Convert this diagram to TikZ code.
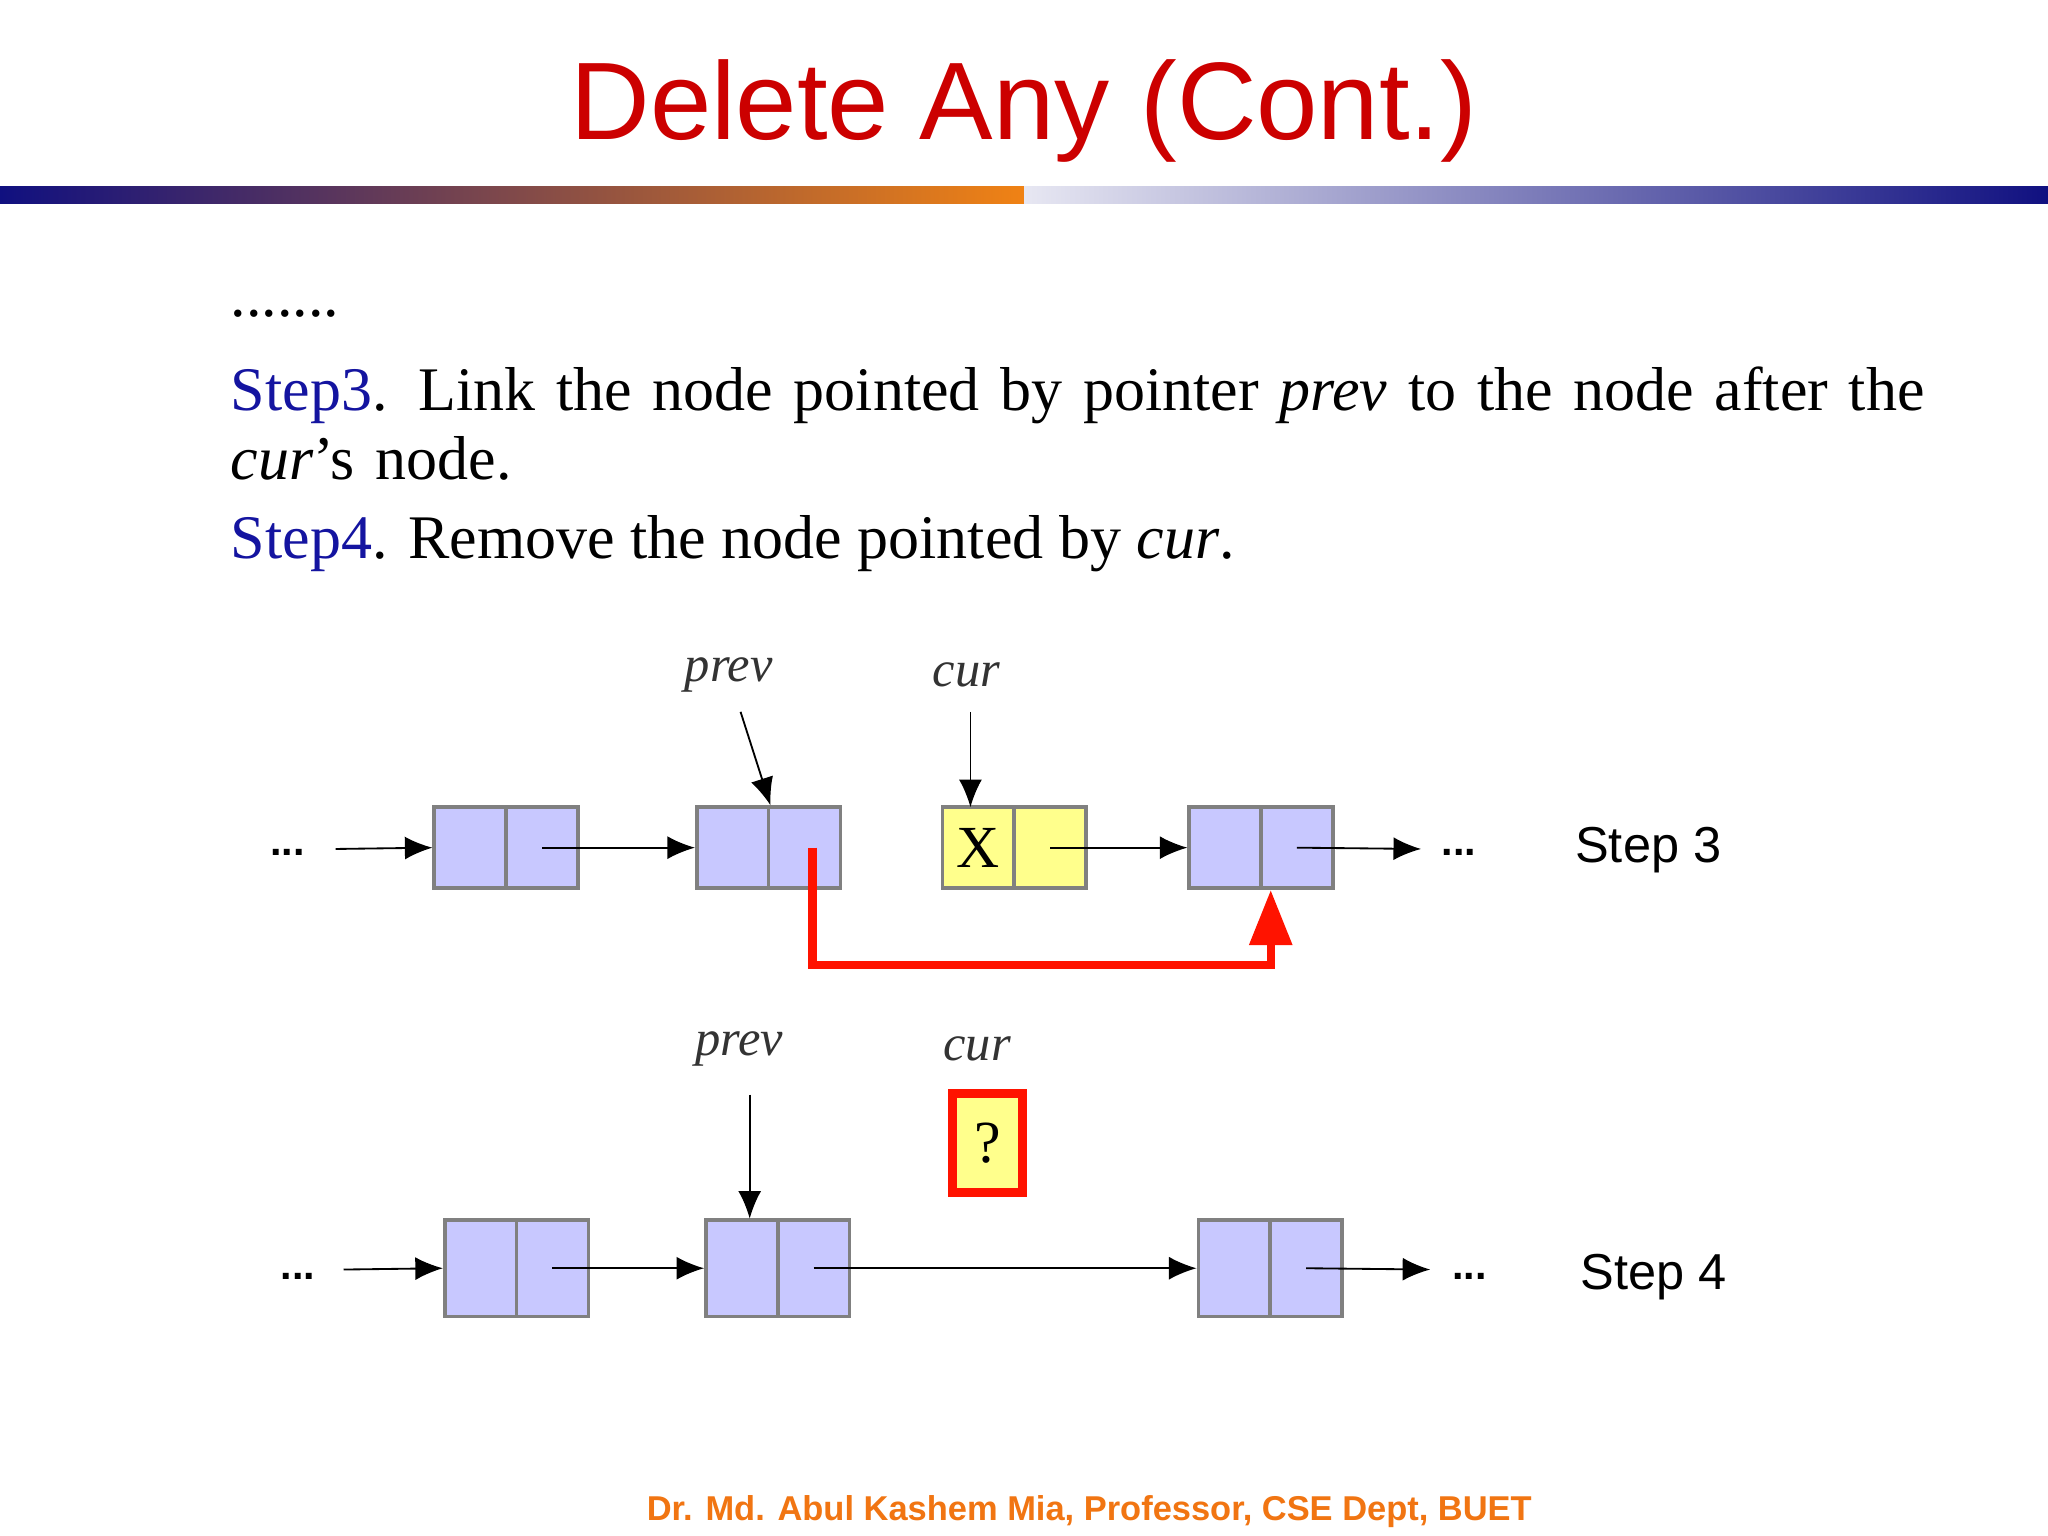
\documentclass[tikz,border=0pt]{standalone}
\usepackage{fontspec}
\setmainfont{Liberation Serif}
\newfontfamily\sansf{Liberation Sans}
\usetikzlibrary{arrows.meta}
\definecolor{nav}{RGB}{16,16,128}
\definecolor{org}{RGB}{240,130,20}
\definecolor{boxc}{RGB}{200,200,255}
\definecolor{yel}{RGB}{255,255,140}
\definecolor{stepblue}{RGB}{20,20,160}
\begin{document}
\begin{tikzpicture}[x=0.01cm,y=-0.01cm,
 cell/.style={draw=gray,fill=boxc,minimum width=55*0.01cm,minimum height=62*0.01cm,inner sep=0,line width=0.8pt},
 ptr/.style={-{Latex[length=6pt,width=5pt]},line width=0.4pt},
 lbl/.style={font=\fontsize{11}{11}\selectfont\itshape,text=black!80,inner sep=0},
 dots/.style={font=\sansf\bfseries\fontsize{9}{9}\selectfont,inner sep=0}]
\useasboundingbox (0,0) rectangle (1568,1176);
\fill[white] (0,0) rectangle (1568,1176);
% title
\node[font=\sansf\fontsize{24}{24}\selectfont,text={rgb,255:red,204;green,0;blue,0}] (title) at (784,85) {Delete Any (Cont.)};
\shade[left color=nav,right color=org] (0,143) rectangle (784,156);
\shade[left color=white!90!nav,right color=nav] (784,143) rectangle (1568,156);
% text
\node[anchor=west,font=\fontsize{13.5}{13.5}\selectfont,inner sep=0] (dd) at (176,240) {.......};
\node[anchor=north west,align=left,font=\fontsize{13.5}{15}\selectfont,inner sep=0,text width=1300*0.01cm] (s3) at (176,280) {\textcolor{stepblue}{Step3}. Link the node pointed by pointer \textit{prev} to the node after the \textit{cur}'s node.};
\node[anchor=north west,font=\fontsize{13.5}{15}\selectfont,inner sep=0] (s4) at (176,394) {\textcolor{stepblue}{Step4}. Remove the node pointed by \textit{cur}.};
% Step 3 row
\foreach \n/\x/\c in {a/360/boxc,b/561/boxc,c/749/yel,d/938/boxc}{
 \node[cell,fill=\c] (\n1) at (\x,649) {};
 \node[cell,fill=\c] (\n2) at (\x+55,649) {};}
\node at (c1) {\fontsize{13}{13}\selectfont X};
\node[dots] (l1) at (220,653) {...};
\node[dots] (r1) at (1117,653) {...};
\coordinate (l1e) at (257,650);
\coordinate (r1e) at (1088,650);
\draw[ptr] (l1e) -- (a1.west);
\draw[ptr] (a2.center) -- (b1.west);
\draw[ptr] (c2.center) -- (d1.west);
\draw[ptr] (d2.center) -- (r1e);
\node[lbl] (p1) at (558,517) {prev};
\node[lbl] (cu1) at (740,517) {cur};
\draw[ptr] (567,545) -- (b1.north east |- b1.north) ;
\draw[ptr] (743,545) -- (743,618);
\draw[-{Triangle[length=12pt,width=9pt]},red!85!orange,line width=1.8pt]
 ([xshift=6*0.01cm]b2.center) -- ++(0,90) -| ([xshift=6*0.01cm]d1.south east);
\node[font=\sansf\fontsize{11}{11}\selectfont] (st3) at (1262,651) {Step 3};
% Step 4 row
\foreach \n/\x in {e/368,f/568,g/945}{
 \node[cell,minimum height=74*0.01cm] (\n1) at (\x,971) {};
 \node[cell,minimum height=74*0.01cm] (\n2) at (\x+55,971) {};}
\node[dots] (l2) at (228,977) {...};
\node[dots] (r2) at (1125,977) {...};
\coordinate (l2e) at (263,972);
\coordinate (r2e) at (1095,972);
\draw[ptr] (l2e) -- (e1.west);
\draw[ptr] (e2.center) -- (f1.west);
\draw[ptr] (f2.center) -- (g1.west);
\draw[ptr] (g2.center) -- (r2e);
\node[lbl] (p2) at (566,803) {prev};
\node[lbl] (cu2) at (748,803) {cur};
\draw[ptr] (574,838) -- (574,933);
\node[draw=red!85!orange,line width=2pt,fill=yel,minimum width=54*0.01cm,minimum height=76*0.01cm,inner sep=0,font=\fontsize{13}{13}\selectfont] (q) at (756,875) {?};
\node[font=\sansf\fontsize{11}{11}\selectfont] (st4) at (1266,978) {Step 4};
% footer
\node[font=\sansf\bfseries\fontsize{7.5}{7.5}\selectfont,text=org!90!red] (ft) at (834,1157) {Dr. Md. Abul Kashem Mia, Professor, CSE Dept, BUET};
\end{tikzpicture}
\end{document}
